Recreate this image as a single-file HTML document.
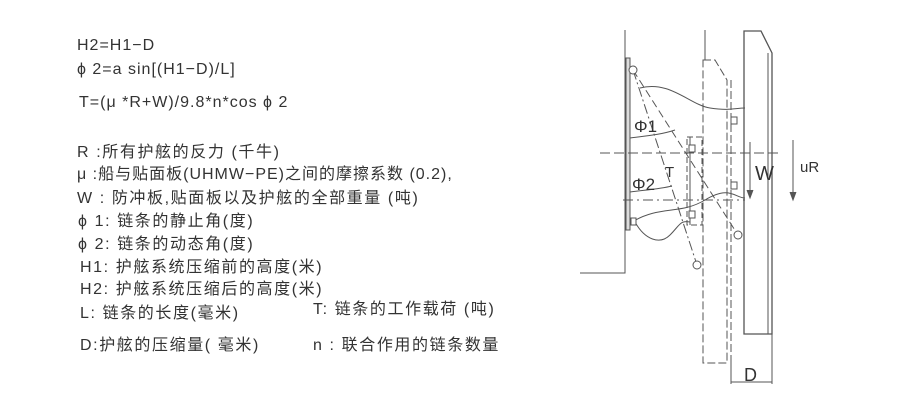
<!DOCTYPE html>
<html><head><meta charset="utf-8"><style>
body{margin:0;background:#fff;width:900px;height:400px;overflow:hidden;position:relative;font-family:"Liberation Sans","Noto Sans CJK SC",sans-serif;color:#333}
.t{position:absolute;font-size:16px;letter-spacing:1px;white-space:nowrap;line-height:18px}
.c{letter-spacing:1.6px}
</style></head><body>
<div class="t" style="left:77px;top:37px">H2=H1−D</div>
<div class="t" style="left:77px;top:61px">ϕ 2=a sin[(H1−D)/L]</div>
<div class="t" style="left:79px;top:94px">T=(μ *R+W)/9.8*n*cos ϕ 2</div>
<div class="t c" style="left:77px;top:144px">R :所有护舷的反力 (千牛)</div>
<div class="t" style="left:77px;top:166px">μ :船与贴面板(UHMW−PE)之间的摩擦系数 (0.2),</div>
<div class="t c" style="left:77px;top:190px">W :  防冲板,贴面板以及护舷的全部重量 (吨)</div>
<div class="t c" style="left:78px;top:213px">ϕ 1:  链条的静止角(度)</div>
<div class="t c" style="left:78px;top:236px">ϕ 2:  链条的动态角(度)</div>
<div class="t c" style="left:80px;top:259px">H1:  护舷系统压缩前的高度(米)</div>
<div class="t c" style="left:80px;top:281px">H2:  护舷系统压缩后的高度(米)</div>
<div class="t c" style="left:80px;top:305px">L:  链条的长度(毫米)</div>
<div class="t c" style="left:313px;top:301px">T:  链条的工作载荷 (吨)</div>
<div class="t c" style="left:80px;top:337px">D:护舷的压缩量( 毫米)</div>
<div class="t c" style="left:313px;top:337px">n :  联合作用的链条数量</div>
<svg width="900" height="400" style="position:absolute;left:0;top:0" fill="none" stroke="#555" stroke-width="1">
<path d="M625 30V273H580"/>
<rect x="626" y="58" width="4" height="172" fill="#ddd"/>
<path d="M705 30V60"/>
<path d="M703 60H715L727 80V363H703Z" stroke-dasharray="8 3"/>
<path d="M731 80V363" stroke-dasharray="8 3"/>
<path d="M744 31H761L772 53V334H744Z" stroke-width="1.3"/>
<path d="M768 53V334"/>
<path d="M731 363V384M772 334V384M731 382H772"/>
<path d="M687 137H702V225H687Z" stroke-dasharray="6 3"/>
<path d="M690 137V225"/>
<path d="M600 153H782" stroke-dasharray="10 4"/>
<path d="M623 200H745" stroke-dasharray="10 4 2 4"/>
<path d="M633 70L697 265" stroke-dasharray="10 3 2 3"/>
<path d="M633 70L738 235" stroke-dasharray="8 4"/>
<path d="M640 88C670 80 690 105 710 108S735 108 745 108"/>
<path d="M632 222C660 205 680 215 705 200S735 198 745 198"/>
<path d="M635 222C645 240 660 245 670 235S680 220 690 222"/>
<path d="M630 138C645 136 660 135 675 130M630 192C645 190 660 189 672 186"/>
<g fill="#fff"><circle cx="633" cy="70" r="4"/><circle cx="697" cy="265" r="4"/><circle cx="738" cy="235" r="4"/>
<rect x="631" y="218" width="5" height="7"/><rect x="689" y="145" width="6" height="7"/><rect x="689" y="211" width="6" height="7"/><rect x="731" y="117" width="6" height="7"/><rect x="731" y="182" width="6" height="7"/></g>
<path d="M750 142V196M793 140V198"/>
<path d="M747 190L750 198L753 190M790 192L793 200L796 192" fill="#555"/>
<g fill="#333" stroke="none" font-family="Liberation Sans,sans-serif">
<text x="634" y="132" font-size="17">Φ1</text><text x="632" y="190" font-size="17">Φ2</text>
<text x="665" y="177" font-size="15">T</text><text x="755" y="180" font-size="20">W</text>
<text x="800" y="172" font-size="15">uR</text><text x="744" y="381" font-size="18">D</text></g>
</svg>
</body></html>
